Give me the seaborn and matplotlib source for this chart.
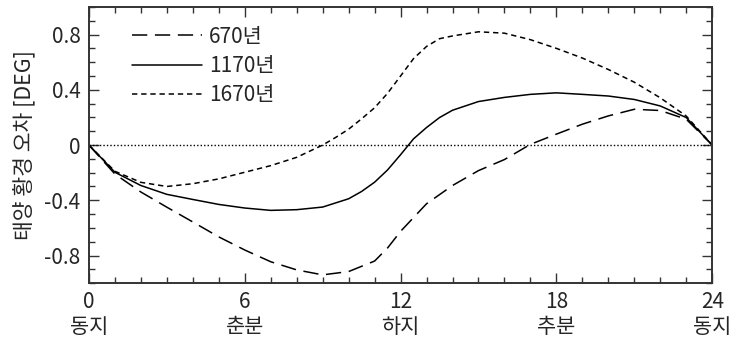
import matplotlib
matplotlib.use("Agg")
import matplotlib.pyplot as plt
import seaborn as sns
import pandas as pd
from matplotlib.ticker import MultipleLocator

x_670 = [0, 1, 2, 3, 4, 5, 6, 7, 8, 9, 10, 11, 11.5, 12, 12.5, 13, 14, 15, 16, 17, 18, 19, 20, 21, 22, 23, 24]
err_670 = [0, -0.21, -0.34, -0.45, -0.557, -0.665, -0.76, -0.845, -0.904, -0.94, -0.916, -0.84, -0.745,
           -0.625, -0.525, -0.425, -0.293, -0.185, -0.105, 0.005, 0.079, 0.151, 0.211, 0.259, 0.250, 0.187, 0]
x_1170 = [0, 1, 2, 3, 4, 5, 6, 7, 8, 9, 10, 10.5, 11, 11.5, 12, 12.5, 13, 13.5, 14, 15, 16, 17, 18, 19, 20,
          21, 22, 23, 24]
err_1170 = [0, -0.197, -0.293, -0.357, -0.394, -0.43, -0.456, -0.473, -0.468, -0.449, -0.389, -0.336, -0.269,
            -0.18, -0.07, 0.045, 0.127, 0.199, 0.252, 0.315, 0.345, 0.367, 0.378, 0.367, 0.355, 0.33, 0.283,
            0.199, 0]
x_1670 = [0, 1, 2, 3, 4, 5, 6, 7, 8, 9, 9.5, 10, 10.5, 11, 11.5, 12, 12.5, 13, 13.5, 14, 15, 16, 17, 18, 19,
          20, 21, 22, 23, 24]
err_1670 = [0, -0.19, -0.27, -0.30, -0.28, -0.245, -0.197, -0.149, -0.089, 0.0, 0.055, 0.115, 0.19, 0.27,
            0.375, 0.50, 0.626, 0.714, 0.77, 0.79, 0.82, 0.81, 0.763, 0.70, 0.63, 0.547, 0.455, 0.342, 0.21, 0]
series_names = ["670년", "1170년", "1670년"]
xtick_vals = [0, 6, 12, 18, 24]
xtick_labels = ["0\n동지", "6\n춘분", "12\n하지", "18\n추분", "24\n동지"]
ytick_vals = [-0.8, -0.4, 0, 0.4, 0.8]
ytick_labels = ["-0.8", "-0.4", "0", "0.4", "0.8"]
ylabel = "태양 황경 오차 [DEG]"

df = pd.DataFrame({
    "x": x_670 + x_1170 + x_1670,
    "y": err_670 + err_1170 + err_1670,
    "series": [series_names[0]] * len(x_670) + [series_names[1]] * len(x_1170)
              + [series_names[2]] * len(x_1670),
})

sns.set_style("ticks")
plt.rcParams["font.family"] = ["Noto Sans CJK KR", "DejaVu Sans"]

fig = plt.figure(figsize=(7.35, 3.47), dpi=100)
ax = fig.add_axes([0.121, 0.184, 0.848, 0.796])

ax.axhline(0, color="black", lw=1.0, ls=(0, (1, 1.5)), zorder=1)

dashes = {series_names[0]: (10, 5), series_names[1]: "", series_names[2]: (3.5, 2.5)}
sns.lineplot(data=df, x="x", y="y", hue="series", style="series", sort=False,
             palette=["black"] * 3, dashes=dashes, lw=1.1, ax=ax, legend=True)

ax.set_xlim(0, 24)
ax.set_ylim(-1.0, 1.0)
ax.set_xticks(xtick_vals)
ax.set_xticklabels(xtick_labels, fontsize=15, linespacing=1.15)
ax.set_yticks(ytick_vals)
ax.set_yticklabels(ytick_labels, fontsize=15)
ax.xaxis.set_minor_locator(MultipleLocator(1))
ax.yaxis.set_minor_locator(MultipleLocator(0.1))
ax.tick_params(which="both", direction="in", top=True, right=True, color="#333333", width=1.0)
ax.tick_params(which="major", length=7)
ax.tick_params(which="minor", length=4)
ax.tick_params(axis="x", which="major", pad=6)
ax.tick_params(axis="y", which="major", pad=6)
for s in ax.spines.values():
    s.set_linewidth(1.4)
    s.set_color("#333333")
ax.set_xlabel("")
ax.set_ylabel(ylabel, fontsize=15.5, labelpad=6)

leg = ax.legend(loc="upper left", bbox_to_anchor=(0.045, 0.985), frameon=False, fontsize=15,
                handlelength=3.4, handletextpad=0.3, labelspacing=0.35, borderaxespad=0.3)

fig.savefig("out.png", dpi=100)
